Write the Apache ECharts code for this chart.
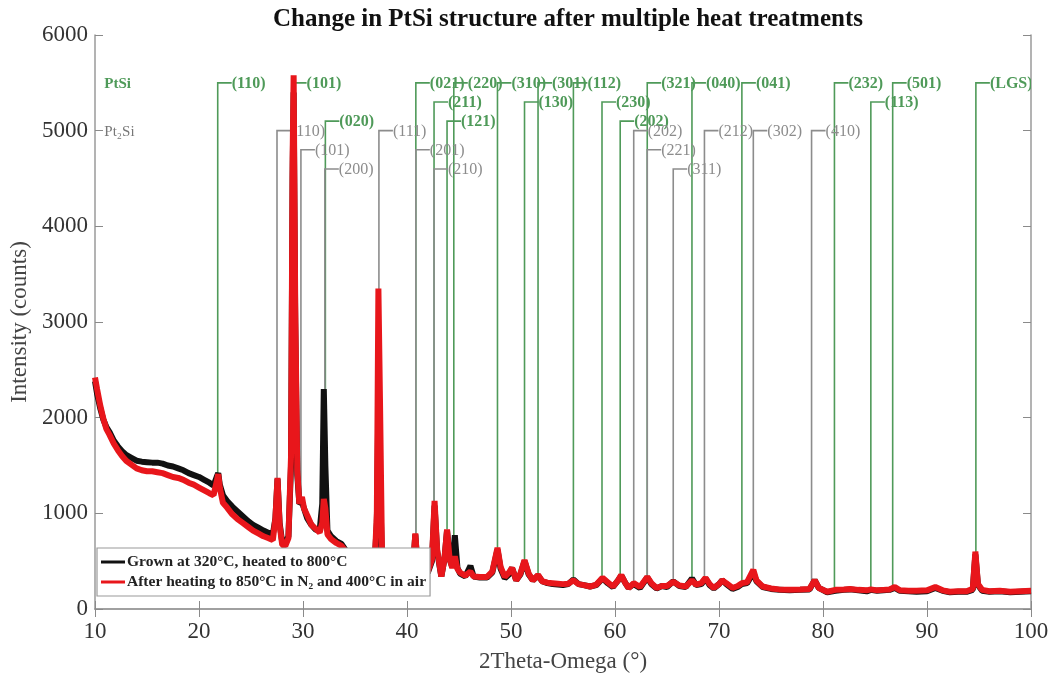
<!DOCTYPE html>
<html>
<head>
<meta charset="utf-8">
<title>Change in PtSi structure after multiple heat treatments</title>
<script src="https://cdn.jsdelivr.net/npm/echarts@6/dist/echarts.min.js"></script>
<style>
  html, body { margin: 0; padding: 0; background: #fff; }
  #chart { width: 1055px; height: 676px; }
</style>
</head>
<body>
<div id="chart"></div>
<script>
// 2θ positions (degrees) shared by both scans
const angle = [
  10.0, 10.2, 10.5, 10.8, 11.1, 11.4, 11.8, 12.2, 12.6, 13.0, 13.5, 14.0, 14.5, 15.0, 15.5,
  16.0, 16.5, 17.0, 17.5, 18.0, 18.5, 19.0, 19.5, 20.0, 20.5, 21.0, 21.4, 21.7, 21.85, 22.0,
  22.3, 22.7, 23.2, 23.7, 24.2, 24.7, 25.2, 25.7, 26.2, 26.7, 27.1, 27.35, 27.55, 27.75, 28.0,
  28.3, 28.6, 28.85, 29.0, 29.1, 29.25, 29.45, 29.65, 29.9, 30.1, 30.4, 30.8, 31.2, 31.6, 31.85,
  32.0, 32.15, 32.35, 32.7, 33.2, 33.7, 34.2, 35.0, 36.0, 36.9, 37.1, 37.25, 37.4, 37.6, 38.0,
  39.0, 40.0, 40.6, 40.8, 41.0, 41.5, 42.0, 42.4, 42.65, 42.9, 43.3, 43.6, 43.85, 44.1, 44.35,
  44.6, 44.85, 45.1, 45.6, 46.1, 46.4, 47.0, 47.7, 48.2, 48.7, 49.0, 49.4, 49.8, 50.1, 50.5,
  50.9, 51.3, 51.7, 52.1, 52.6, 53.0, 53.5, 54.0, 55.0, 55.5, 56.0, 56.5, 57.0, 57.6, 58.2,
  58.8, 59.3, 59.8, 60.3, 60.6, 61.0, 61.3, 61.8, 62.4, 63.1, 63.5, 64.0, 64.5, 65.0, 65.6,
  66.2, 66.8, 67.4, 67.8, 68.3, 68.7, 69.1, 69.5, 70.0, 70.3, 70.7, 71.3, 71.8, 72.2, 72.7,
  73.3, 73.6, 74.2, 75.0, 75.8, 76.8, 77.8, 78.7, 79.2, 79.6, 80.4, 81.2, 82.0, 82.6, 83.4,
  84.2, 84.6, 85.2, 85.8, 86.4, 86.9, 87.4, 88.2, 89.0, 90.0, 90.8, 91.5, 92.2, 93.0, 93.8,
  94.4, 94.65, 94.9, 95.3, 96.0, 97.0, 98.0, 99.0, 100.0
];

// Intensity (counts): grown at 320 °C, heated to 800 °C
const grown800 = [
  2380, 2250, 2100, 1980, 1900, 1850, 1760, 1700, 1650, 1610, 1580, 1550, 1540, 1535, 1530,
  1530, 1520, 1500, 1490, 1470, 1450, 1420, 1400, 1380, 1350, 1320, 1290, 1380, 1420, 1300,
  1190, 1130, 1070, 1020, 970, 920, 880, 850, 820, 795, 780, 950, 1360, 900, 700,
  690, 760, 1500, 4500, 5400, 3000, 1400, 1100, 1120, 1050, 950, 880, 830, 820, 1100,
  2300, 1500, 820, 760, 710, 680, 600, 560, 520, 500, 900, 2150, 1300, 520, 480,
  460, 440, 460, 780, 460, 400, 380, 500, 1080, 600, 340, 520, 820, 520, 440,
  770, 430, 370, 340, 450, 340, 330, 330, 380, 620, 420, 320, 360, 430, 300,
  360, 500, 360, 300, 350, 290, 270, 260, 250, 260, 310, 260, 250, 235, 250,
  320, 270, 230, 300, 350, 270, 220, 260, 220, 330, 260, 215, 240, 230, 290,
  240, 230, 320, 250, 260, 320, 250, 215, 260, 300, 260, 210, 230, 260, 270,
  380, 290, 230, 210, 200, 195, 200, 205, 300, 220, 175, 190, 200, 205, 195,
  185, 200, 190, 195, 200, 220, 190, 185, 180, 185, 220, 190, 175, 180, 180,
  200, 570, 250, 190, 180, 185, 175, 180, 185
];

// Intensity (counts): after heating to 850 °C in N2 and 400 °C in air
const annealed850 = [
  2420, 2300, 2130, 1990, 1880, 1820, 1730, 1660, 1600, 1550, 1510, 1470, 1450, 1440, 1440,
  1430, 1420, 1400, 1380, 1370, 1350, 1320, 1300, 1270, 1240, 1210, 1190, 1330, 1410, 1270,
  1110, 1060, 990, 940, 900, 860, 820, 790, 760, 740, 720, 950, 1370, 880, 670,
  660, 740, 1600, 4700, 5580, 3200, 1450, 1100, 1170, 1050, 980, 880, 840, 800, 900,
  1150, 1050, 780, 730, 690, 660, 590, 550, 510, 500, 1000, 3350, 2200, 560, 480,
  460, 440, 470, 790, 470, 410, 390, 520, 1130, 620, 340, 520, 830, 520, 430,
  550, 420, 380, 350, 390, 340, 335, 335, 390, 640, 440, 335, 380, 430, 300,
  370, 510, 370, 300, 355, 290, 275, 270, 260, 265, 300, 260, 250, 235, 255,
  325, 280, 235, 300, 355, 270, 220, 270, 230, 335, 270, 220, 240, 240, 285,
  245, 235, 300, 255, 270, 325, 260, 220, 260, 300, 270, 220, 240, 270, 280,
  410, 300, 235, 215, 205, 200, 205, 210, 300, 220, 180, 200, 205, 210, 200,
  195, 205, 195, 200, 205, 230, 195, 190, 190, 195, 230, 195, 180, 185, 185,
  210, 600, 260, 200, 185, 190, 180, 185, 190
];

// Reference reflections: PtSi
const ptSiAngle = [21.8, 29.0, 32.15, 40.85, 42.6, 43.85, 44.5, 48.7, 51.3, 52.6,
  56.0, 58.75, 60.5, 63.1, 67.4, 72.2, 81.1, 84.6, 86.7, 94.7];
const ptSiLevel = [5500, 5500, 5100, 5500, 5300, 5100, 5500, 5500, 5300, 5500,
  5500, 5300, 5100, 5500, 5500, 5500, 5500, 5300, 5500, 5500];
const ptSiHkl = ['(110)', '(101)', '(020)', '(021)', '(211)', '(121)', '(220)', '(310)', '(130)', '(301)',
  '(112)', '(230)', '(202)', '(321)', '(040)', '(041)', '(232)', '(113)', '(501)', '(LGS)'];

// Reference reflections: Pt2Si
const pt2SiAngle = [27.5, 29.8, 32.1, 37.3, 40.85, 42.6, 61.8, 63.1, 65.6, 68.6, 73.3, 78.9];
const pt2SiLevel = [5000, 4800, 4600, 5000, 4800, 4600, 5000, 4800, 4600, 5000, 5000, 5000];
const pt2SiHkl = ['(110)', '(101)', '(200)', '(111)', '(201)', '(210)', '(202)', '(221)', '(311)', '(212)', '(302)', '(410)'];

// Phase names shown at the left end of the reflection rows
const phaseNames = ['PtSi', 'Pt\u2082Si'];
const phaseLevels = [5500, 5000];
const phaseAngle = 10.9;

const xTicks = { min: 10, max: 100, step: 10 };
const yTicks = { min: 0, max: 6000, step: 1000 };

const seriesGrown = 'Grown at 320°C, heated to 800°C';
const seriesAnnealed = 'After heating to 850°C in N\u2082 and 400°C in air';

const SERIF = '"Liberation Serif", "Times New Roman", "DejaVu Serif", serif';
const GREEN = '#4f9a59';
const GRAY = '#8c8c8c';

// Height of the measured curve at a given angle, so a reflection stick starts on the trace
function traceAt(x) {
  for (let i = 1; i < angle.length; i++) {
    if (angle[i] >= x) {
      const t = (x - angle[i - 1]) / (angle[i] - angle[i - 1]);
      const a = Math.max(grown800[i - 1], annealed850[i - 1]);
      const b = Math.max(grown800[i], annealed850[i]);
      return a + t * (b - a);
    }
  }
  return annealed850[annealed850.length - 1];
}

function pairs(ys) { return angle.map((a, i) => [a, ys[i]]); }

function stickData(angles, levels) {
  return angles.map((a, i) => [a, levels[i], traceAt(a)]);
}

function stickSeries(angles, levels, labels, color, bold) {
  return {
    type: 'custom',
    z: 1,
    silent: true,
    clip: true,
    data: stickData(angles, levels),
    renderItem: function (params, api) {
      const x = api.value(0);
      const top = api.coord([x, api.value(1)]);
      const bot = api.coord([x, api.value(2)]);
      const stub = 14;
      return {
        type: 'group',
        children: [
          {
            type: 'polyline',
            shape: { points: [bot, top, [top[0] + stub, top[1]]] },
            style: { stroke: color, lineWidth: 1.6, fill: null }
          },
          {
            type: 'text',
            style: {
              text: labels[params.dataIndex],
              x: top[0] + stub, y: top[1] + 1,
              align: 'left', verticalAlign: 'middle',
              fill: color,
              font: (bold ? 'bold ' : '') + '16px ' + SERIF
            }
          }
        ]
      };
    }
  };
}

const chart = echarts.init(document.getElementById('chart'), null, { renderer: 'canvas' });

const axisLineStyle = { color: '#9a9a9a', width: 1.5 };
const tickStyle = { color: '#8a8a8a', width: 1 };
const plainNumber = v => String(v);

chart.setOption({
  animation: false,
  backgroundColor: '#ffffff',
  title: {
    text: 'Change in PtSi structure after multiple heat treatments',
    left: 563,
    textAlign: 'center',
    top: 2,
    textStyle: { fontFamily: SERIF, fontSize: 25, fontWeight: 'bold', color: '#111' }
  },
  grid: { left: 95, right: 24, top: 35, bottom: 67, containLabel: false, outerBoundsMode: 'none' },
  legend: {
    left: 97, top: 548,
    orient: 'vertical',
    backgroundColor: '#ffffff',
    borderColor: '#9a9a9a',
    borderWidth: 1.2,
    borderRadius: 0,
    padding: [6, 4, 6, 4],
    itemGap: 4,
    itemWidth: 24,
    itemHeight: 3,
    icon: 'rect',
    textStyle: { fontFamily: SERIF, fontSize: 15.5, fontWeight: 'bold', color: '#222', padding: [0, 0, 0, -3] },
    data: [seriesGrown, seriesAnnealed]
  },
  xAxis: [
    {
      type: 'value', min: xTicks.min, max: xTicks.max, interval: xTicks.step,
      name: '2Theta-Omega (°)', nameLocation: 'middle', nameGap: 41,
      nameTextStyle: { fontFamily: SERIF, fontSize: 23, color: '#444' },
      axisLine: { show: true, lineStyle: axisLineStyle },
      axisTick: { inside: true, length: 8, lineStyle: tickStyle },
      axisLabel: { fontFamily: SERIF, fontSize: 23, color: '#333', margin: 11, formatter: plainNumber },
      splitLine: { show: false }
    },
    {
      type: 'value', position: 'top', min: xTicks.min, max: xTicks.max, interval: xTicks.step,
      axisLine: { show: true, lineStyle: axisLineStyle },
      axisTick: { inside: true, length: 8, lineStyle: tickStyle },
      axisLabel: { show: false },
      splitLine: { show: false }
    }
  ],
  yAxis: [
    {
      type: 'value', min: yTicks.min, max: yTicks.max, interval: yTicks.step,
      name: 'Intensity (counts)', nameLocation: 'middle', nameGap: 48,
      nameTextStyle: { fontFamily: SERIF, fontSize: 23, color: '#444' },
      axisLine: { show: true, lineStyle: axisLineStyle },
      axisTick: { inside: true, length: 8, lineStyle: tickStyle },
      axisLabel: { fontFamily: SERIF, fontSize: 23, color: '#333', margin: 7, formatter: plainNumber },
      splitLine: { show: false }
    },
    {
      type: 'value', position: 'right', min: yTicks.min, max: yTicks.max, interval: yTicks.step,
      axisLine: { show: true, lineStyle: axisLineStyle },
      axisTick: { inside: true, length: 8, lineStyle: tickStyle },
      axisLabel: { show: false },
      splitLine: { show: false }
    }
  ],
  series: [
    stickSeries(ptSiAngle, ptSiLevel, ptSiHkl, GREEN, true),
    stickSeries(pt2SiAngle, pt2SiLevel, pt2SiHkl, GRAY, false),
    {
      type: 'custom',
      z: 1,
      silent: true,
      data: phaseNames.map((n, i) => [phaseAngle, phaseLevels[i]]),
      renderItem: function (params, api) {
        const p = api.coord([api.value(0), api.value(1)]);
        const i = params.dataIndex;
        return {
          type: 'text',
          style: {
            text: phaseNames[i], x: p[0], y: p[1] + 1,
            align: 'left', verticalAlign: 'middle',
            fill: i === 0 ? GREEN : '#777',
            font: (i === 0 ? 'bold ' : '') + '15px ' + SERIF
          }
        };
      }
    },
    {
      name: seriesGrown,
      type: 'line',
      z: 2,
      data: pairs(grown800),
      showSymbol: false,
      symbol: 'none',
      sampling: null,
      color: '#111111',
      lineStyle: { color: '#111111', width: 6 }
    },
    {
      name: seriesAnnealed,
      type: 'line',
      z: 3,
      data: pairs(annealed850),
      showSymbol: false,
      symbol: 'none',
      color: '#e8161b',
      lineStyle: { color: '#e8161b', width: 6 }
    }
  ]
});
</script>
</body>
</html>
